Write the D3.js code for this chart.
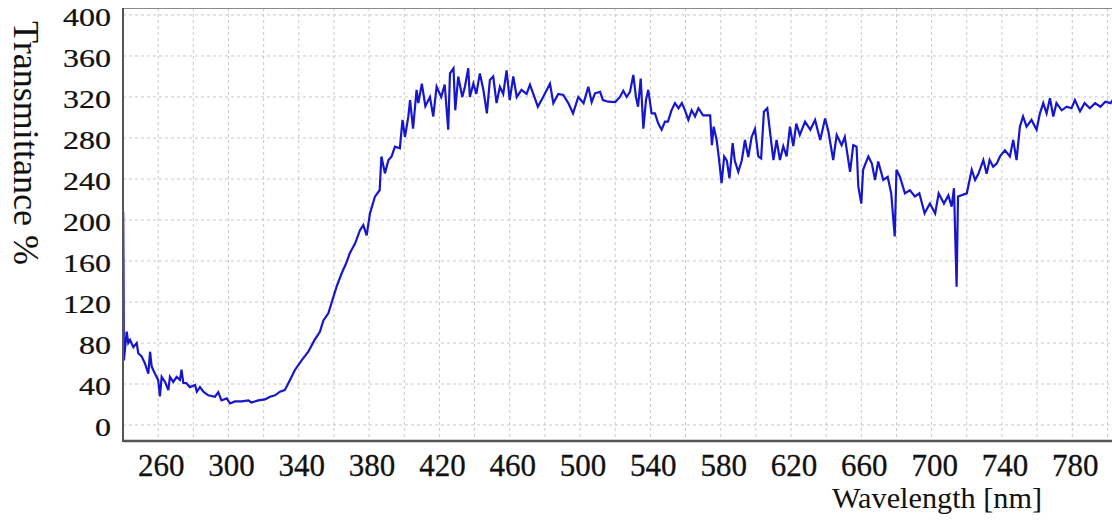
<!DOCTYPE html>
<html>
<head>
<meta charset="utf-8">
<script src="https://cdn.jsdelivr.net/npm/d3@7/dist/d3.min.js"></script>
<style>
  html, body { margin: 0; padding: 0; background: #fff; }
  svg { display: block; }
  text { font-family: "Liberation Serif", "Times New Roman", serif; fill: #111; }
</style>
</head>
<body>
<svg id="chart" width="1112" height="525"></svg>
<script>
// Wavelength (nm)
const wavelength = [
  240.1, 240.3, 240.5, 242.1, 243, 244, 245.9, 247.8, 248.7, 250.6, 252.5, 254.4, 255.4, 256.3, 258.2,
  260, 261, 262, 263.9, 265.8, 266.7, 268.6, 270.5, 272.4, 273.3, 274.3, 276, 278, 281, 282, 283.8,
  285.7, 288.5, 292.3, 294.2, 296, 299, 300.9, 303.7, 307.5, 311.3, 313, 317, 320.8, 323.6, 326.5,
  329.3, 332, 334, 337.8, 341.6, 345.4, 349, 352, 354, 356.8,
  361.5, 364.4, 367, 369, 372, 374.8, 376.7, 378.6, 380.5, 383.3, 386, 387, 389, 391, 392.8, 394.7,
  397.5, 399, 400.4, 402.3, 403.3, 405, 407, 408, 410, 412, 414.6, 416.5, 418.4, 421, 423, 425, 426,
  428, 429, 430.7, 433, 434.5, 436.4, 437.3, 439.3, 441, 443, 445, 447, 448.7, 450.6, 452.5, 454.4,
  456.3, 458.2, 460, 462, 464, 466.7, 469.6, 471.5, 474, 476, 479, 482.9, 484.8, 487.6,
  490.5, 493.3, 496, 499, 502, 504.7, 506.6, 508.5, 511.4, 513, 516, 520, 522.7, 524.6, 526.5, 528.4,
  530.3, 531.8, 533, 534.5, 536, 537.5, 538.8, 540.7, 542.6, 544.5, 546.4, 548.3, 550, 552, 554, 556,
  557.9, 559.7, 561.6, 563.5, 565.4, 567.3, 570, 574, 575, 576, 577.7, 579, 580.5, 582, 583.5, 585,
  586.8, 588, 590, 592, 593.8, 595.7, 597.6, 599.5, 601.4, 603, 604.6, 606.5, 608.4, 610, 611.8,
  613.7, 615.6, 617.5, 619.4, 621.3, 623,
  625, 628, 631, 633.7, 636.6, 639.4, 641.3, 644, 646, 648.8, 650.6, 653.6, 655.4, 657.3, 658.3, 660,
  661, 664, 666, 667.8, 669.6, 672.5, 675, 677, 679, 680, 682, 684.8, 687.6, 690.5, 693, 696, 699,
  702, 704, 707, 709.5, 711.4, 712.7, 714.2, 715,
  720, 722.8, 724.7, 726.6, 729.4, 731.3, 733, 735, 737, 738.9, 741.7, 744.5, 746.4, 748.3, 750.2,
  752, 754, 756.8, 759.7, 761.6, 763.5, 765.4, 767.3, 769.2, 771, 774, 776.8, 779.6, 781.5, 784.4,
  787, 790, 793, 796, 798.8, 801.8, 803
];
// Transmittance (%)
const transmittance = [
  208, 150, 63, 91, 80, 83, 76, 80, 70, 67, 60, 50, 71.5, 57, 50,
  44, 28, 47, 42, 34, 47, 42, 47, 44, 54, 41, 41, 37, 39, 32.5, 37,
  32.5, 29, 27.6, 32, 24, 26, 21, 23, 23, 24, 22, 24, 25, 27.6, 29,
  32.5, 34, 40.6, 53.7, 63, 71.5, 83, 91, 102, 109,
  135, 148, 158, 167.5, 177, 190, 195, 185, 206.5, 222.7, 229, 262, 245.5, 258.5, 262, 271.5,
  270, 297.6, 281, 300.8, 317, 289, 327, 314, 333, 311, 320, 301, 330, 320, 332, 288, 343,
  348, 307, 340, 320, 330, 348, 320, 333, 323, 343, 327, 304, 336.6, 340, 314, 330,
  323, 346, 317, 340, 320, 327, 323, 332, 320, 310.5, 320, 333, 314, 323,
  322, 314, 304, 320, 314, 330, 315, 323.6, 325, 317, 315.4, 315, 320, 326, 320, 325,
  341.5, 320, 310.5, 338, 289, 317, 327, 304, 304, 294, 288, 296, 296, 307, 314, 309,
  314, 307, 297.6, 307, 301, 309, 302, 302, 273, 291, 278, 260, 236, 262, 258, 240.7,
  275, 258, 247, 258, 278, 261.5, 281, 289, 262, 260, 305.7, 309, 281, 258.5, 278,
  258.5, 272, 262, 291, 272, 294,
  283, 296, 288, 297.6, 278, 299, 286, 258.5, 283, 273, 281, 247, 273, 271.5, 232.5, 216,
  249, 262, 255, 239, 257, 239, 242, 226, 184, 249, 242, 226, 229, 223, 226, 206.5, 216,
  206.5, 226, 216, 224, 213, 231, 135, 223,
  226, 249, 239, 245, 258.5, 245, 258.5, 252, 255, 262, 268, 262, 278, 258.5, 291,
  301, 291, 297.6, 288, 304, 314, 304, 318.7, 301, 314, 307, 310.5, 309, 317, 306,
  314, 309, 314, 310.5, 315.4, 314, 317
];
const yTicks = [0, 40, 80, 120, 160, 200, 240, 280, 320, 360, 400];
const xTicks = [260, 300, 340, 380, 420, 460, 500, 540, 580, 620, 660, 700, 740, 780];
const xGrid = d3.range(260, 801, 20);

const svg = d3.select("#chart");
const padL = 123, padR = 1112, padT = 8, padB = 441;

const x = d3.scaleLinear().domain([240, 802.6]).range([padL, padR]);
const y = d3.scaleLinear().domain([-15.6, 406.8]).range([padB, padT]);

// grid
const grid = svg.append("g");
grid.selectAll("line.v").data(xGrid).join("line").attr("class", "v")
  .attr("x1", d => x(d)).attr("x2", d => x(d))
  .attr("y1", padT).attr("y2", padB)
  .attr("stroke", "#c8c8c8").attr("stroke-width", 1).attr("stroke-dasharray", "3,3");
grid.selectAll("line.h").data(yTicks).join("line").attr("class", "h")
  .attr("x1", padL).attr("x2", padR)
  .attr("y1", d => y(d)).attr("y2", d => y(d))
  .attr("stroke", "#c8c8c8").attr("stroke-width", 1).attr("stroke-dasharray", "3,3");

// frame
svg.append("line").attr("x1", padL).attr("x2", padR).attr("y1", padT + 0.5).attr("y2", padT + 0.5)
  .attr("stroke", "#8a8a8a").attr("stroke-width", 1);
svg.append("line").attr("x1", padL).attr("x2", padL).attr("y1", padT).attr("y2", padB + 1)
  .attr("stroke", "#555").attr("stroke-width", 2);
svg.append("line").attr("x1", padL).attr("x2", padR).attr("y1", padB).attr("y2", padB)
  .attr("stroke", "#555").attr("stroke-width", 2.5);

// data line
svg.append("clipPath").attr("id", "clip").append("rect")
  .attr("x", padL + 1).attr("y", padT).attr("width", padR - padL).attr("height", padB - padT);
const pts = wavelength.map((w, i) => [w, transmittance[i]]);
const line = d3.line().x(d => x(d[0])).y(d => y(d[1]));
svg.append("path").datum(pts)
  .attr("clip-path", "url(#clip)")
  .attr("fill", "none").attr("stroke", "#1616cc").attr("stroke-width", 2.2)
  .attr("stroke-linejoin", "miter").attr("d", line);

// y tick labels
svg.append("g").selectAll("text").data(yTicks).join("text")
  .attr("transform", d => `translate(111,${y(d) + 11}) scale(1,0.82)`)
  .attr("text-anchor", "end").attr("font-size", 32)
  .attr("stroke", "#111").attr("stroke-width", 0.3)
  .text(d => d);

// x tick labels
svg.append("g").selectAll("text").data(xTicks).join("text")
  .attr("x", d => x(d) + 3).attr("y", 476)
  .attr("text-anchor", "middle").attr("font-size", 31)
  .attr("stroke", "#111").attr("stroke-width", 0.3)
  .text(d => d);

// axis titles
svg.append("text")
  .attr("transform", "translate(14,21) rotate(90)")
  .attr("font-size", 36)
  .attr("textLength", 244).attr("lengthAdjust", "spacingAndGlyphs")
  .text("Transmittance %");
svg.append("text")
  .attr("x", 832).attr("y", 508)
  .attr("font-size", 30)
  .attr("textLength", 210).attr("lengthAdjust", "spacingAndGlyphs")
  .text("Wavelength [nm]");
</script>
</body>
</html>
